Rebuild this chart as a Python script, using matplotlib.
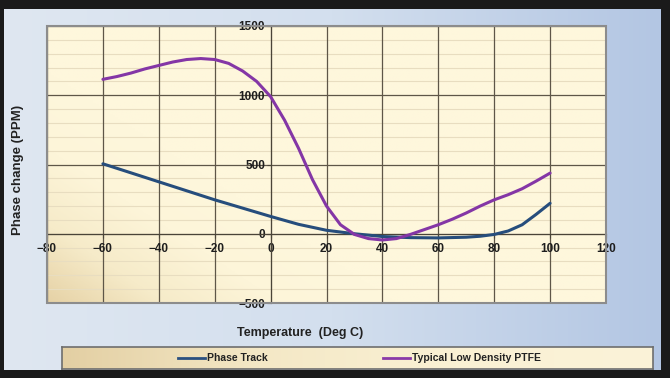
import numpy as np
import matplotlib
matplotlib.use("Agg")
import matplotlib.pyplot as plt
from matplotlib.patches import Rectangle

plt.rcParams['font.family'] = ['Liberation Sans', 'DejaVu Sans']

# data
temp_track = [-60, -50, -40, -30, -20, -10, 0, 10, 20, 30, 40, 50, 60, 70, 75, 80, 85, 90, 95, 100]
phase_track = [505, 440, 375, 310, 245, 185, 125, 68, 25, 0, -20, -28, -30, -25, -18, -5, 20, 65, 140, 220]

temp_ptfe = [-60, -55, -50, -45, -40, -35, -30, -25, -20, -15, -10, -5, 0, 5, 10, 15, 20,
             25, 30, 35, 40, 45, 50, 55, 60, 65, 70, 75, 80, 85, 90, 95, 100]
phase_ptfe = [1115, 1135, 1160, 1190, 1215, 1240, 1258, 1265, 1258, 1230, 1175, 1100, 990, 820, 617, 390, 200,
              65, -5, -35, -45, -35, -5, 30, 65, 105, 150, 200, 245, 282, 325, 380, 438]

x_ticks = [-80, -60, -40, -20, 0, 20, 40, 60, 80, 100, 120]
y_ticks = [-500, 0, 500, 1000, 1500]

W, H = 670, 378
fig = plt.figure(figsize=(W / 100, H / 100), dpi=100)
fig.patch.set_facecolor('#1a1a1a')

# light blue panel inside the black frame
bg = fig.add_axes([4 / W, 1 - 370 / H, (661 - 4) / W, (370 - 9) / H])
grad = np.linspace(0, 1, 256)[None, :]
bg.imshow(grad, aspect='auto', extent=[0, 1, 0, 1],
          cmap=matplotlib.colors.LinearSegmentedColormap.from_list('b', ['#dfe7f1', '#d3dfee', '#b3c6e3']))
bg.set_axis_off()

# legend box
lg = fig.add_axes([62 / W, 1 - 369 / H, (653 - 62) / W, (369 - 347) / H])
lg.imshow(np.linspace(0, 1, 256)[None, :], aspect='auto', extent=[0, 1, 0, 1],
          cmap=matplotlib.colors.LinearSegmentedColormap.from_list('t', ['#e3cfa3', '#f4e8c6', '#faf1d4', '#fbf3d8']))
lg.set_xlim(0, 1)
lg.set_ylim(0, 1)
lg.set_xticks([])
lg.set_yticks([])
for s in lg.spines.values():
    s.set_color('#6e6e6e')
    s.set_linewidth(1.2)
lg.plot([(178 - 62) / 591, (205 - 62) / 591], [0.5, 0.5], color='#2a5080', lw=2)
lg.text((207 - 62) / 591, 0.5, 'Phase Track', va='center', ha='left', fontsize=7.5, fontweight='bold', color='#222222')
lg.plot([(383 - 62) / 591, (410 - 62) / 591], [0.5, 0.5], color='#8a3aa8', lw=2)
lg.text((412 - 62) / 591, 0.5, 'Typical Low Density PTFE', va='center', ha='left', fontsize=7.5, fontweight='bold', color='#222222')

# main plot
ax = fig.add_axes([47 / W, 1 - 303 / H, (606 - 47) / W, (303 - 26) / H])
ax.set_xlim(-80, 120)
ax.set_ylim(-500, 1500)
cream = matplotlib.colors.LinearSegmentedColormap.from_list('c', ['#e6d2a6', '#f6ebc9', '#fdf5d9', '#fef7dc'])
gx, gy = np.meshgrid(np.linspace(0, 1, 200), np.linspace(0, 1, 200))
ax.imshow(np.clip(gx * 1.6 + gy * 1.2, 0, 1), aspect='auto', extent=[-80, 120, -500, 1500],
          origin='lower', cmap=cream, zorder=0)

for yv in range(-400, 1500, 100):
    if yv % 500:
        ax.axhline(yv, color='#e8ddc0', lw=0.8, zorder=1)
for yv in y_ticks:
    ax.axhline(yv, color='#5e5648', lw=0.9, zorder=1)
for xv in x_ticks:
    ax.axvline(xv, color='#5e5648', lw=0.9, zorder=1)

ax.plot(temp_track, phase_track, color='#264d7c', lw=2.2, zorder=3,
        solid_capstyle='round', solid_joinstyle='round')
ax.plot(temp_ptfe, phase_ptfe, color='#8436a6', lw=2.2, zorder=3,
        solid_capstyle='round', solid_joinstyle='round')

ax.spines['left'].set_position(('data', 0))
ax.spines['bottom'].set_position(('data', 0))
ax.spines['left'].set_color('#4a4438')
ax.spines['bottom'].set_color('#4a4438')
ax.spines['top'].set_visible(False)
ax.spines['right'].set_visible(False)
# grey frame round the plot area
ax.add_patch(Rectangle((0, 0), 1, 1, transform=ax.transAxes, fill=False,
                       edgecolor='#8c8c8c', lw=1.5, zorder=4, clip_on=False))

ax.set_xticks(x_ticks)
ax.set_yticks(y_ticks)
ax.tick_params(axis='both', length=3, color='#4a4438', labelsize=8.5, labelcolor='#1e1e1e')
ax.tick_params(axis='y', pad=1)
ax.tick_params(axis='x', pad=4)
for lab in ax.get_xticklabels() + ax.get_yticklabels():
    lab.set_fontweight('bold')

fig.text(300 / W, 1 - 333 / H, 'Temperature  (Deg C)', ha='center', va='center',
         fontsize=9, fontweight='bold', color='#222222')
fig.text(18 / W, 1 - 170 / H, 'Phase change (PPM)', ha='center', va='center', rotation=90,
         fontsize=9.5, fontweight='bold', color='#222222')

fig.savefig('out.png', dpi=100, facecolor=fig.get_facecolor())
